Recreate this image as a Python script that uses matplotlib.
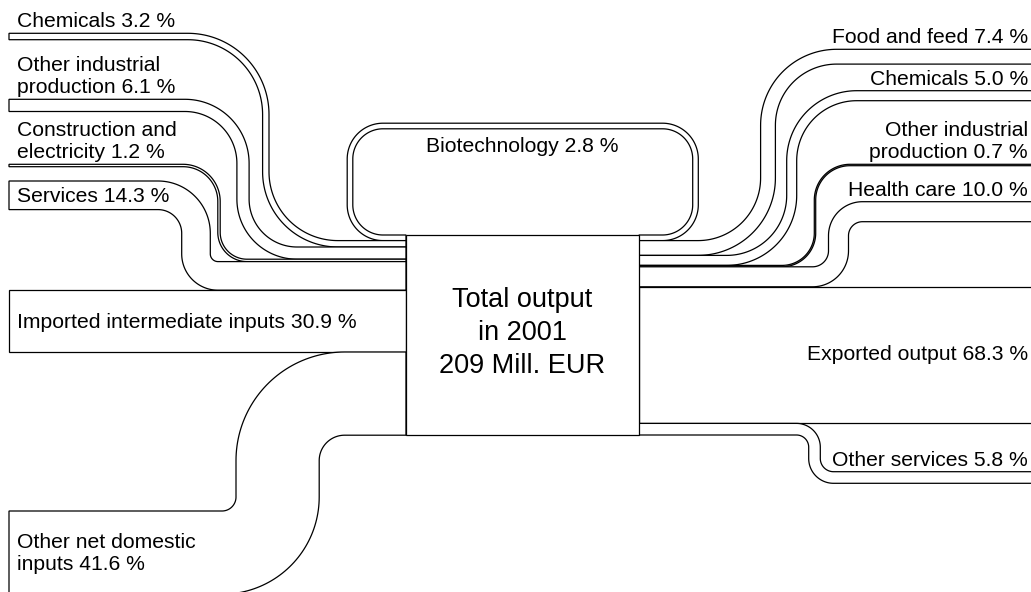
import numpy as np
import matplotlib
matplotlib.use("Agg")
import matplotlib.pyplot as plt
from matplotlib.patches import Polygon, Rectangle

plt.rcParams['font.family'] = ['Liberation Sans', 'DejaVu Sans']

# ---------------- data ----------------
in_labels = ["Chemicals", "Other industrial\nproduction", "Construction and\nelectricity",
             "Services", "Imported intermediate inputs", "Other net domestic\ninputs"]
in_values = [3.2, 6.1, 1.2, 14.3, 30.9, 41.6]

out_labels = ["Food and feed", "Chemicals", "Other industrial\nproduction",
              "Health care", "Exported output", "Other services"]
out_values = [7.4, 5.0, 0.7, 10.0, 68.3, 5.8]

loop_label = "Biotechnology"
loop_value = 2.8

total_year = 2001
total_value = 209  # Mill. EUR

# ---------------- layout (pixel frame) ----------------
W, H = 1031, 592
PX = 2.0                      # pixels per percent
BOX_X0, BOX_X1, BOX_Y0 = 406, 639, 235
LEFT_END, RIGHT_END = 9, 1045

in_end_top = [33.3, 99.3, 164.3, 181.0, None, 511.0]
in_vx = [265.8, 243.0, 219.0, 196.0, None, 277.6]
in_r_end = [78, 58, 36, 38, 0, 55.6]
in_r_box = [72, 54, 28, 22, 0, 67]
in_inside = [False, False, False, True, True, True]

out_end_top = [49.3, 90.7, 164.3, 201.7, None, 471.7]
out_vx = [768.0, 791.7, 815.0, 838.5, None, 814.5]
out_r_box = [70, 65, 33, 26, 0, 18]
out_r_end = [68.6, 65, 35, 24, 0, 19]
out_inside = [False, False, False, False, True, False]

loop_x_left, loop_x_right, loop_y_top, loop_r = 350.0, 695.5, 126.0, 33

LW = 0.9
FS = 15.2
FS_BIG = 19.5


def rounded_centerline(corners, radii, n=48):
    corners = [np.array(c, float) for c in corners]
    pts, tans = [], []
    d0 = corners[1] - corners[0]
    d0 /= np.linalg.norm(d0)
    pts.append(corners[0]); tans.append(d0)
    for i in range(1, len(corners) - 1):
        C = corners[i]
        d1 = C - corners[i - 1]; d1 /= np.linalg.norm(d1)
        d2 = corners[i + 1] - C; d2 /= np.linalg.norm(d2)
        R = radii[i - 1]
        start = C - d1 * R
        end = C + d2 * R
        center = C + (d2 - d1) * R
        a0 = np.arctan2(*(start - center)[::-1])
        a1 = np.arctan2(*(end - center)[::-1])
        da = (a1 - a0 + np.pi) % (2 * np.pi) - np.pi
        s = np.sign(da)
        for t in np.linspace(0, 1, n):
            a = a0 + da * t
            pts.append(center + R * np.array([np.cos(a), np.sin(a)]))
            tans.append(s * np.array([-np.sin(a), np.cos(a)]))
    dl = corners[-1] - corners[-2]
    dl /= np.linalg.norm(dl)
    pts.append(corners[-1]); tans.append(dl)
    return np.array(pts), np.array(tans)


def band(ax, corners, radii, width, z=2):
    pts, tans = rounded_centerline(corners, radii)
    nrm = np.column_stack([-tans[:, 1], tans[:, 0]])
    a = pts + nrm * width / 2
    b = pts - nrm * width / 2
    poly = np.vstack([a, b[::-1]])
    ax.add_patch(Polygon(poly, closed=True, facecolor='white', edgecolor='black',
                         lw=LW, joinstyle='miter', zorder=z))


fig = plt.figure(figsize=(W / 100, H / 100), dpi=100)
ax = fig.add_axes([0, 0, 1, 1])
ax.set_xlim(0, W)
ax.set_ylim(H, 0)
ax.axis('off')

# biotechnology loop (leaves right side, returns on left side, topmost)
lw_loop = loop_value * PX
yc_loop = BOX_Y0 + lw_loop / 2
band(ax, [(BOX_X1, yc_loop), (loop_x_right, yc_loop), (loop_x_right, loop_y_top),
          (loop_x_left, loop_y_top), (loop_x_left, yc_loop), (BOX_X0, yc_loop)],
     [loop_r] * 4, lw_loop)
ax.text((BOX_X0 + BOX_X1) / 2, loop_y_top + lw_loop / 2 + 8,
        f"{loop_label} {loop_value:.1f} %", ha='center', va='top', fontsize=FS)

# inputs (left)
y = BOX_Y0 + lw_loop
for lab, v, et, vx, re, rb, ins in zip(in_labels, in_values, in_end_top, in_vx,
                                        in_r_end, in_r_box, in_inside):
    w = v * PX
    yb = y + w / 2
    if et is None:
        ye = yb
        band(ax, [(LEFT_END, ye), (BOX_X0, yb)], [], w)
        top = y
    else:
        ye = et + w / 2
        band(ax, [(LEFT_END, ye), (vx, ye), (vx, yb), (BOX_X0, yb)], [re, rb], w)
        top = et
    txt = f"{lab} {v:.1f} %"
    if ins:
        ax.text(17, ye + 1, txt, ha='left', va='center', fontsize=FS, linespacing=1.2)
    else:
        ax.text(17, top - 2, txt, ha='left', va='bottom', fontsize=FS, linespacing=1.2)
    y += w

# outputs (right)
y = BOX_Y0 + lw_loop
for lab, v, et, vx, re, rb, ins in zip(out_labels, out_values, out_end_top, out_vx,
                                        out_r_end, out_r_box, out_inside):
    w = v * PX
    yb = y + w / 2
    if et is None:
        ye = yb
        band(ax, [(BOX_X1, yb), (RIGHT_END, ye)], [], w)
        top = y
    else:
        ye = et + w / 2
        band(ax, [(BOX_X1, yb), (vx, yb), (vx, ye), (RIGHT_END, ye)], [rb, re], w)
        top = et
    txt = f"{lab} {v:.1f} %"
    if ins:
        ax.text(1028, ye - 1, txt, ha='right', va='center', fontsize=FS)
    else:
        ax.text(1028, top - 2, txt, ha='right', va='bottom', fontsize=FS,
                multialignment='right', linespacing=1.2)
    y += w

# central box
box_h = sum(in_values) * PX + lw_loop
ax.add_patch(Rectangle((BOX_X0, BOX_Y0), BOX_X1 - BOX_X0, box_h, facecolor='white',
                       edgecolor='black', lw=LW, zorder=5))
ax.text((BOX_X0 + BOX_X1) / 2, BOX_Y0 + box_h / 2 - 2,
        f"Total output\nin {total_year}\n{total_value} Mill. EUR",
        ha='center', va='center', fontsize=FS_BIG, linespacing=1.35, zorder=6)

fig.savefig("out.png", dpi=100)
